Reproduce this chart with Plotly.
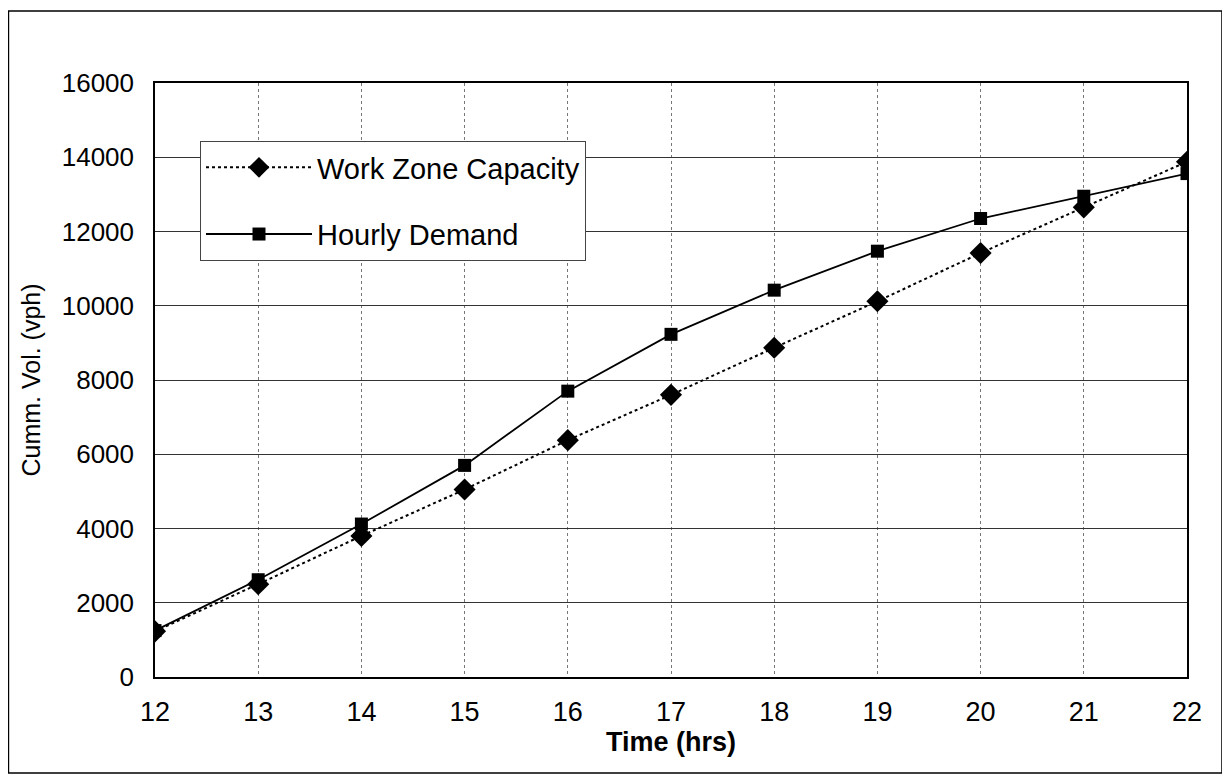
import plotly.graph_objects as go

hours = [12, 13, 14, 15, 16, 17, 18, 19, 20, 21, 22]
capacity = [1230, 2500, 3800, 5050, 6380, 7600, 8870, 10120, 11420, 12650, 13880]
demand = [1250, 2620, 4120, 5700, 7700, 9230, 10420, 11470, 12350, 12950, 13560]
y_ticks = [0, 2000, 4000, 6000, 8000, 10000, 12000, 14000, 16000]

FONT = "Liberation Sans, Arial, sans-serif"

fig = go.Figure()
fig.add_trace(go.Scatter(
    x=hours, y=capacity, name="Work Zone Capacity", mode="lines+markers",
    line=dict(color="black", width=2, dash="dot"),
    marker=dict(symbol="diamond", size=17, color="black"),
    legendgroup="a"))
fig.add_trace(go.Scatter(
    x=hours, y=demand, name="Hourly Demand", mode="lines+markers",
    line=dict(color="black", width=1.8),
    marker=dict(symbol="square", size=13, color="black"),
    legendgroup="b"))

fig.update_layout(
    width=1230, height=775,
    margin=dict(l=147, r=51, t=75, b=106),
    paper_bgcolor="white", plot_bgcolor="white",
    font=dict(family=FONT, color="black", size=22),
    showlegend=True,
    legend=dict(x=0.0436, y=0.9024, xanchor="left", yanchor="top",
                bgcolor="white", bordercolor="#444", borderwidth=1,
                font=dict(size=29, family=FONT), itemwidth=106,
                tracegroupgap=26, traceorder="grouped"),
    xaxis=dict(range=[12, 22], tickvals=hours, showgrid=True,
               gridcolor="#777", griddash="dot", gridwidth=1,
               showline=True, linecolor="black", linewidth=1.5, mirror=True,
               ticks="", tickfont=dict(size=27), zeroline=False,
               ticklabelstandoff=10,
               title=dict(text="<b>Time (hrs)</b>", font=dict(size=27), standoff=4)),
    yaxis=dict(range=[0, 16000], tickvals=y_ticks, tickformat="d", showgrid=True,
               gridcolor="#333", gridwidth=1,
               showline=True, linecolor="black", linewidth=1.5, mirror=True,
               ticks="", tickfont=dict(size=26), zeroline=False,
               ticklabelstandoff=14,
               title=dict(text="Cumm. Vol. (vph)", font=dict(size=25), standoff=14)),
)

fig.add_shape(type="rect", xref="paper", yref="paper",
              x0=-0.142, x1=1.0339, y0=-0.1616, y1=1.1212,
              line=dict(color="black", width=1.5), layer="below")

fig.write_html("out.html")
